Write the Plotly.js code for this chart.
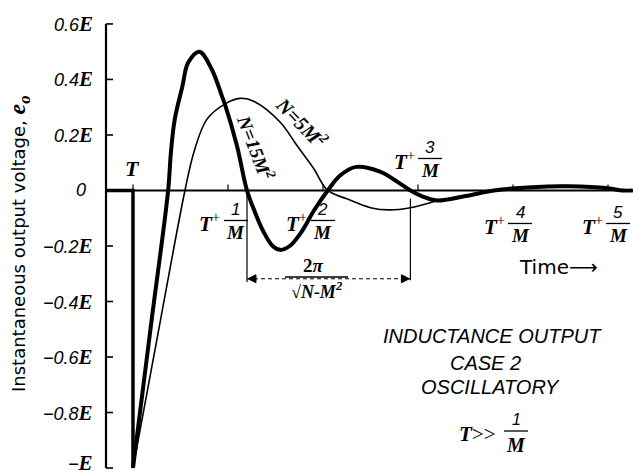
<!DOCTYPE html>
<html><head><meta charset="utf-8">
<script src="https://cdn.plot.ly/plotly-3.0.1.min.js"></script>
<style>html,body{margin:0;padding:0;background:#fff}#chart{width:633px;height:474px}</style>
</head><body><div id="chart"></div>
<script>
// x in units of 1/M after the step at T, y in units of E
const thickX = [0, 0.2, 0.37, 0.4, 0.44, 0.52, 0.58, 0.70, 0.83, 0.937, 0.968, 1.095, 1.2, 1.28, 1.37, 1.47, 1.55, 1.65, 1.78, 1.9, 2.05, 2.18, 2.35, 2.6, 2.78, 2.92, 3.05, 3.2, 3.5, 3.8, 4.2, 4.6, 5.0, 5.15, 5.26];
const thickY = [-1.0, -0.457, 0, 0.14, 0.257, 0.375, 0.46, 0.5, 0.436, 0.339, 0.31, 0.16, 0, -0.075, -0.146, -0.2, -0.214, -0.2, -0.146, -0.075, 0, 0.054, 0.085, 0.068, 0.032, 0, -0.022, -0.036, -0.02, 0.0, 0.012, 0.015, 0.008, 0, 0];
const thinX = [0, 0.295, 0.547, 0.642, 0.779, 0.979, 1.126, 1.28, 1.55, 1.73, 1.9, 2.05, 2.25, 2.5, 2.7, 2.92, 3.2, 3.6, 4.0, 4.5, 4.9, 5.1, 5.26];
const thinY = [-1.0, -0.457, 0, 0.139, 0.257, 0.314, 0.332, 0.32, 0.246, 0.16, 0.08, 0, -0.03, -0.062, -0.07, -0.062, -0.038, -0.012, 0.006, 0.018, 0.01, 0, -0.002];
const axisStart = -0.284;
const stepX = [axisStart, 0, 0];
const stepY = [0, 0, -1.0];
const yTickVals = [0.6, 0.4, 0.2, 0, -0.2, -0.4, -0.6, -0.8, -1];
const yTickNums = ['0.6', '0.4', '0.2', '0', '\u22120.2', '\u22120.4', '\u22120.6', '\u22120.8', '\u2212'];
const xMarkVals = [1, 2, 3, 4, 5];
const xMarkNums = ['1', '2', '3', '4', '5'];
const periodStart = 1.2, periodEnd = 2.92;

const W = 633, H = 474, L = 100, T = 22, R = 0, B = 0;
const xEnd = 5.263, pxPerUnit = 95;
const xStart = axisStart - (106 - L) / pxPerUnit;
const yRange = [-1.0215, 0.607];
const pw = W - L - R, ph = H - T - B;
const P = (xp, yp) => ({x: (xp - L) / pw, y: (H - B - yp) / ph, xref: 'paper', yref: 'paper'});
const SER = 'Liberation Serif', SAN = 'Liberation Sans';
const Espan = s => `<span style="font-family:${SER};font-weight:bold;font-style:italic;font-size:${s}px">E</span>`;

// axis lines & y ticks as line traces (built from tick values)
const axX = [axisStart, axisStart, null, axisStart, xEnd];
const axY = [-1.0, 0.6, null, 0, 0];
const tkX = [], tkY = [];
yTickVals.forEach(v => { tkX.push(axisStart, axisStart + 7 / pxPerUnit, null); tkY.push(v, v, null); });

const traces = [
  {x: axX, y: axY, mode: 'lines', line: {color: '#000', width: 2.2}, hoverinfo: 'skip'},
  {x: tkX, y: tkY, mode: 'lines', line: {color: '#000', width: 1.6}, hoverinfo: 'skip'},
  {x: stepX, y: stepY, mode: 'lines', line: {color: '#000', width: 3.5}, hoverinfo: 'skip'},
  {x: thinX, y: thinY, mode: 'lines', line: {color: '#000', width: 1.6, shape: 'spline', smoothing: 1}, hoverinfo: 'skip'},
  {x: thickX, y: thickY, mode: 'lines', line: {color: '#000', width: 4, shape: 'spline', smoothing: 1}, hoverinfo: 'skip'}
];

const shapes = [];
const ann = [];
// y tick labels
yTickVals.forEach((v, i) => {
  const txt = yTickNums[i] === '0' ? '<i>0</i>' : `<i>${yTickNums[i]}</i>${Espan(21)}`;
  ann.push({x: axisStart, y: v, xref: 'x', yref: 'y', xshift: yTickNums[i] === '0' ? -18 : -11, yshift: i === yTickVals.length - 1 ? 5 : 0, xanchor: 'right', text: txt, font: {family: SAN, size: 18, color: '#000'}});
});
[0].concat(xMarkVals).forEach(v => shapes.push({type: 'line', xref: 'x', yref: 'y', ysizemode: 'pixel', yanchor: 0, x0: v, x1: v, y0: 0, y1: 6, line: {color: '#000', width: 1.2}}));
// fraction labels T+n/M
const labPos = {1: [8, 30], 2: [0, 30], 3: [12, -32], 4: [7, 33], 5: [10, 33]};
const fracFont = {family: SER, size: 19, color: '#000', weight: 'bold', style: 'italic'};
xMarkVals.forEach((v, i) => {
  const [dx, bar] = labPos[v];
  shapes.push({type: 'line', xref: 'x', xsizemode: 'pixel', xanchor: v, x0: dx - 12, x1: dx + 12, yref: 'y', ysizemode: 'pixel', yanchor: 0, y0: -bar, y1: -bar, line: {color: '#000', width: 1.3}});
  ann.push({x: v, y: 0, xref: 'x', yref: 'y', xshift: dx, yshift: -bar + 11, text: '<i>' + xMarkNums[i] + '</i>', font: {family: SAN, size: 17, color: '#000'}});
  ann.push({x: v, y: 0, xref: 'x', yref: 'y', xshift: dx, yshift: -bar - 12, text: 'M', font: fracFont});
  ann.push({x: v, y: 0, xref: 'x', yref: 'y', xshift: dx - 26, yshift: -bar - 2, text: '<b><i>T</i></b><sup>+</sup>', font: {family: SER, size: 21, color: '#000'}});
});
ann.push({x: 0, y: 0, xref: 'x', yref: 'y', yshift: 22, text: '<b><i>T</i></b>', font: {family: SER, size: 22, color: '#000'}});

// period dimension
const dimY = -0.318;
shapes.push({type: 'line', xref: 'x', yref: 'y', x0: periodStart, x1: periodStart, y0: 0, y1: dimY - 0.012, line: {color: '#000', width: 1.2}});
shapes.push({type: 'line', xref: 'x', yref: 'y', x0: periodEnd, x1: periodEnd, y0: -0.03, y1: dimY - 0.005, line: {color: '#000', width: 1.2}});
shapes.push({type: 'line', xref: 'x', yref: 'y', x0: periodStart, x1: periodEnd, y0: dimY, y1: dimY, line: {color: '#000', width: 1.1, dash: '4px,3px'}});
shapes.push({type: 'path', xref: 'x', xsizemode: 'pixel', xanchor: periodStart, yref: 'y', ysizemode: 'pixel', yanchor: dimY, path: 'M 9 -4 L 1 0 L 9 4 Z', fillcolor: '#000', line: {color: '#000', width: 1}});
shapes.push({type: 'path', xref: 'x', xsizemode: 'pixel', xanchor: periodEnd, yref: 'y', ysizemode: 'pixel', yanchor: dimY, path: 'M -9 -4 L -1 0 L -9 4 Z', fillcolor: '#000', line: {color: '#000', width: 1}});
shapes.push({type: 'line', xref: 'paper', yref: 'paper', x0: P(285, 0).x, x1: P(348, 0).x, y0: P(0, 277).y, y1: P(0, 277).y, line: {color: '#000', width: 1.5}});
ann.push(Object.assign(P(313, 265), {text: '2<i>π</i>', font: {family: SER, size: 19, color: '#000', weight: 'bold'}}));
ann.push(Object.assign(P(317, 290), {text: '<b><i>√N-M<sup>2</sup></i></b>', font: {family: SER, size: 18, color: '#000'}}));

// curve labels
ann.push(Object.assign(P(302, 122), {text: '<b><i>N=5M<sup>2</sup></i></b>', textangle: 46, font: {family: SER, size: 20, color: '#000'}}));
ann.push(Object.assign(P(256, 147), {text: '<b><i>N=15M<sup>2</sup></i></b>', textangle: 69, font: {family: SER, size: 19, color: '#000'}}));

// axis title & notes
ann.push(Object.assign(P(19, 244), {text: `Instantaneous output voltage, <span style="font-family:${SER};font-weight:bold;font-style:italic;font-size:24px">e<sub>o</sub></span>`, textangle: -90, font: {family: 'DejaVu Sans', size: 18, color: '#000'}}));
ann.push(Object.assign(P(558, 267), {text: 'Time\u27F6', font: {family: 'DejaVu Sans', size: 20, color: '#000'}}));
const noteFont = {family: SAN, size: 20, style: 'italic', color: '#000'};
ann.push(Object.assign(P(492, 336), {text: 'INDUCTANCE OUTPUT', font: noteFont}));
ann.push(Object.assign(P(485, 363), {text: 'CASE 2', font: noteFont}));
ann.push(Object.assign(P(490, 387), {text: 'OSCILLATORY', font: noteFont}));
ann.push(Object.assign(P(477, 434), {text: '<b><i>T</i></b>&gt;&gt;', font: {family: SER, size: 21, color: '#000'}}));
ann.push(Object.assign(P(516, 419), {text: '<i>1</i>', font: {family: SAN, size: 16, color: '#000'}}));
ann.push(Object.assign(P(516, 445), {text: '<b><i>M</i></b>', font: {family: SER, size: 20, color: '#000'}}));
shapes.push({type: 'line', xref: 'paper', yref: 'paper', x0: P(504, 0).x, x1: P(528, 0).x, y0: P(0, 431).y, y1: P(0, 431).y, line: {color: '#000', width: 1.3}});

ann.forEach(a => { a.showarrow = false; if (!a.xanchor) a.xanchor = 'center'; a.yanchor = 'middle'; });

const layout = {
  width: W, height: H, margin: {l: L, r: R, t: T, b: B, pad: 0},
  showlegend: false,
  xaxis: {range: [xStart, xEnd], showline: false, showgrid: false, zeroline: false, showticklabels: false},
  yaxis: {range: yRange, showline: false, showgrid: false, zeroline: false, showticklabels: false},
  shapes: shapes, annotations: ann
};
Plotly.newPlot('chart', traces, layout, {staticPlot: true});
</script></body></html>
